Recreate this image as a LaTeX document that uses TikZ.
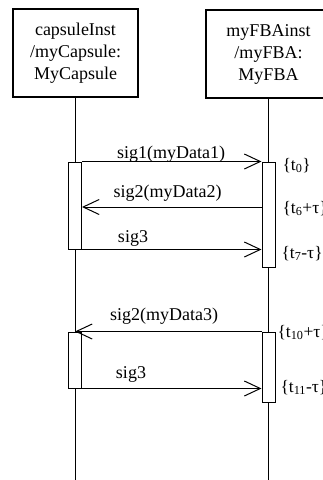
\documentclass[tikz,border=0pt]{standalone}
\usepackage{fontspec}
\setmainfont{Liberation Serif}
\usetikzlibrary{arrows.meta}
\begin{document}
\begin{tikzpicture}[x=1pt,y=-1pt, line width=1pt,
 obj/.style={draw, line width=1.2pt, minimum width=125pt, minimum height=88pt, align=center, font=\fontsize{18}{22}\selectfont, inner sep=0},
 act/.style={draw, fill=white, minimum width=13pt, inner sep=0},
 msg/.style={-{Straight Barb[length=16pt,width=15pt,line width=1pt]}},
 lbl/.style={font=\fontsize{18}{22}\selectfont, anchor=base, inner sep=0},
 tl/.style={font=\fontsize{17.5}{20}\selectfont, anchor=base west, inner sep=0}]
\useasboundingbox (0,0) rectangle (322,480);
\node[obj] (c) at (75.5,53) {capsuleInst\\/myCapsule:\\MyCapsule};
\node[obj] (f) at (268.5,54) {myFBAinst\\/myFBA:\\MyFBA};
\coordinate (cend) at (75,480);
\coordinate (fend) at (268.5,480);
\draw (c.south -| cend) -- (cend);
\draw (f.south) -- (fend);
% activation bars
\node[act, minimum height=87pt] (a1) at (75,205.5) {};
\node[act, minimum height=105pt] (b1) at (268.5,214.5) {};
\node[act, minimum height=56pt] (a2) at (75,360) {};
\node[act, minimum height=70pt] (b2) at (268.5,367) {};
% messages
\coordinate (y2) at (0,207);
\draw[msg] (a1.north east) -- (b1.west |- a1.north);
\draw[msg] (b1.west |- y2) -- (a1.east |- y2);
\draw[msg] (a1.south east) -- (b1.west |- a1.south);
\draw[msg] (b2.north west) -- (a2.north);
\draw[msg] (a2.south east) -- (b2.west |- a2.south);
% message labels
\node[lbl] (l1) at (171,158) {sig1(myData1)};
\node[lbl] (l2) at (167.5,197) {sig2(myData2)};
\node[lbl] (l3) at (133,242) {sig3};
\node[lbl] (l4) at (164,320) {sig2(myData3)};
\node[lbl] (l5) at (131,378) {sig3};
% time constraints
\node[tl] (t1) at (282,170) {\{t\textsubscript{0}\}};
\node[tl] (t2) at (282,213) {\{t\textsubscript{6}+τ\}};
\node[tl] (t3) at (281,258) {\{t\textsubscript{7}-τ\}};
\node[tl] (t4) at (277,337) {\{t\textsubscript{10}+τ\}};
\node[tl] (t5) at (280,392) {\{t\textsubscript{11}-τ\}};
\end{tikzpicture}
\end{document}
